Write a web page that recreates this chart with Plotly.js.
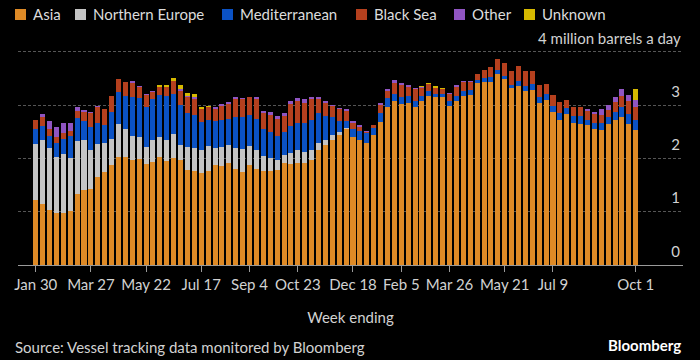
<!DOCTYPE html>
<html>
<head>
<meta charset="utf-8">
<script src="https://cdn.plot.ly/plotly-3.0.1.min.js"></script>
<style>
  html, body { margin: 0; padding: 0; background: #000; }
  #chart { width: 700px; height: 360px; }
</style>
</head>
<body>
<div id="chart"></div>
<script>
// ---- Data (million barrels a day, weekly) ----
const seriesNames = ['Asia', 'Northern Europe', 'Mediterranean', 'Black Sea', 'Other', 'Unknown'];
const seriesColors = ['#de8a26', '#c4c4c4', '#0b52c4', '#b5401e', '#9055c2', '#d6b900'];

const asia = [1.22,1.15,1.03,0.97,0.98,1.02,1.33,1.40,1.43,1.65,1.75,1.87,2.02,2.02,1.97,1.99,1.89,1.93,2.03,1.95,
  2.00,1.97,1.78,1.77,1.72,1.76,1.87,1.86,1.92,1.80,1.75,1.87,1.80,1.76,1.77,1.78,1.91,1.89,1.91,1.91,
  1.98,2.15,2.25,2.35,2.44,2.55,2.40,2.34,2.30,2.44,2.69,2.97,3.07,3.02,3.05,2.97,3.08,3.18,3.15,3.15,
  2.99,3.07,3.18,3.19,3.41,3.44,3.44,3.59,3.49,3.32,3.37,3.27,3.28,3.04,3.10,2.87,2.73,2.84,2.67,2.65,
  2.62,2.55,2.54,2.65,2.73,2.77,2.65,2.54];
const northernEurope = [1.05,1.20,1.16,1.05,1.10,0.98,1.00,0.95,0.73,0.62,0.54,0.49,0.63,0.54,0.46,0.41,0.32,0.42,0.37,0.40,
  0.46,0.29,0.44,0.43,0.43,0.48,0.32,0.36,0.34,0.39,0.43,0.36,0.36,0.28,0.24,0.19,0.16,0.21,0.24,0.21,
  0.18,0.14,0.09,0.09,0.06,0.02,0,0,0,0,0,0,0,0,0,0,0,0,0,0,
  0,0,0,0,0,0,0,0,0,0,0,0,0,0,0,0,0,0,0,0,
  0,0,0,0,0,0,0,0];
const mediterranean = [0.29,0.26,0.24,0.28,0.29,0.43,0.43,0.35,0.43,0.40,0.34,0.52,0.60,0.62,0.73,0.74,0.76,0.76,0.79,0.83,
  0.75,0.75,0.64,0.61,0.54,0.49,0.51,0.51,0.48,0.58,0.60,0.58,0.59,0.51,0.49,0.46,0.43,0.51,0.51,0.55,
  0.57,0.56,0.45,0.33,0.21,0.14,0.15,0.17,0.18,0.14,0.16,0.16,0.14,0.13,0.13,0.11,0.09,0.09,0.07,0.07,
  0.09,0.11,0.09,0.09,0.06,0.08,0.09,0.08,0.06,0.06,0.08,0.09,0.11,0.11,0.11,0.11,0.12,0.11,0.13,0.15,
  0.11,0.11,0.13,0.12,0.14,0.19,0.18,0.19];
const blackSea = [0.16,0.16,0.13,0.11,0.11,0.09,0.14,0.18,0.26,0.29,0.30,0.29,0.24,0.25,0.26,0.20,0.22,0.13,0.15,0.16,
  0.24,0.26,0.29,0.31,0.23,0.23,0.23,0.25,0.28,0.34,0.34,0.34,0.36,0.30,0.31,0.31,0.29,0.41,0.41,0.38,
  0.38,0.27,0.26,0.21,0.21,0.18,0.12,0.08,0.02,0.04,0.16,0.14,0.21,0.23,0.16,0.23,0.16,0.12,0.11,0.08,
  0.13,0.17,0.17,0.16,0.11,0.15,0.18,0.20,0.25,0.27,0.29,0.28,0.25,0.23,0.18,0.21,0.21,0.14,0.16,0.16,
  0.16,0.18,0.15,0.14,0.19,0.21,0.24,0.23];
const other = [0,0.06,0.14,0.19,0.19,0.14,0.06,0.03,0.02,0.03,0,0,0,0,0.03,0.03,0.03,0.03,0.01,0.01,
  0.01,0.03,0.02,0.03,0.01,0,0.04,0.05,0.04,0.04,0.01,0.01,0.05,0.05,0.06,0.06,0.06,0.06,0.06,0.06,
  0.04,0.04,0.03,0.03,0.03,0.03,0.03,0.03,0.01,0,0.03,0.03,0.05,0.04,0.04,0.01,0.01,0.01,0,0,
  0.02,0.03,0.02,0.02,0,0,0,0,0,0,0,0,0,0,0,0,0,0,0,0,
  0.03,0.03,0.10,0.09,0.09,0.13,0.13,0.13];
const unknown = [0,0,0,0,0,0,0,0,0,0,0,0,0,0,0,0,0,0,0.03,0.03,
  0.06,0.08,0.06,0.06,0.04,0.02,0,0,0,0,0,0,0,0,0,0,0,0,0,0,
  0,0,0,0,0,0,0,0,0,0,0,0,0,0,0,0,0.03,0.02,0.03,0.03,
  0,0,0,0,0,0,0,0,0,0,0,0,0,0,0,0,0,0,0,0,
  0,0,0,0,0,0,0,0.21];

const tickDates = ['2022-01-30','2022-03-27','2022-05-22','2022-07-17','2022-09-04','2022-10-23',
  '2022-12-18','2023-02-05','2023-03-26','2023-05-21','2023-07-09','2023-10-01'];
const tickLabels = ['Jan 30','Mar 27','May 22','Jul 17','Sep 4','Oct 23','Dec 18','Feb 5','Mar 26','May 21','Jul 9','Oct 1'];
const yTickVals = [0, 1, 2, 3, 4];
const yTickLabels = ['0', '1', '2', '3', ''];
const yUnitLabel = '4 million barrels a day';

// Week-ending dates (categories), weekly from Jan 30, 2022
const weekEnding = [];
const startMs = Date.UTC(2022, 0, 30);
for (let i = 0; i < asia.length; i++) {
  weekEnding.push(new Date(startMs + i * 7 * 86400000).toISOString().slice(0, 10));
}

const seriesValues = [asia, northernEurope, mediterranean, blackSea, other, unknown];

// ---- Layout constants ----
const W = 700, H = 360;
const M = { l: 18, r: 17, t: 20, b: 95 };
const plotW = W - M.l - M.r, plotH = H - M.t - M.b;
const px2x = px => (px - M.l) / plotW;
const px2y = py => (H - M.b - py) / plotH;
const FONT = 'Lato, "Noto Sans", sans-serif';
const TEXT = '#d2d2d2';

const traces = seriesNames.map((name, i) => ({
  type: 'bar',
  name: name,
  x: weekEnding,
  y: seriesValues[i],
  marker: { color: seriesColors[i], line: { width: 0 } },
  hovertemplate: name + ': %{y:.2f}<extra>%{x}</extra>'
}));

// Legend drawn as swatches + labels
const legendSwatchX = [15, 75, 222, 356, 454, 524];
const shapes = [];
const annotations = [];
seriesNames.forEach((name, i) => {
  shapes.push({
    type: 'rect', xref: 'paper', yref: 'paper',
    x0: px2x(legendSwatchX[i]), x1: px2x(legendSwatchX[i] + 11),
    y0: px2y(20), y1: px2y(9),
    fillcolor: seriesColors[i], line: { width: 0 }
  });
  annotations.push({
    xref: 'paper', yref: 'paper', x: px2x(legendSwatchX[i] + 16), y: px2y(14.5),
    xanchor: 'left', yanchor: 'middle', showarrow: false, text: name,
    font: { family: FONT, size: 15, color: '#dcdcdc' }
  });
});
// Top y tick label with unit
annotations.push({
  xref: 'paper', yref: 'y', x: 1, y: yTickVals[yTickVals.length - 1],
  xanchor: 'right', yanchor: 'middle', yshift: 14, showarrow: false,
  text: yUnitLabel,
  font: { family: FONT, size: 15, color: TEXT }
});
annotations.push({
  xref: 'paper', yref: 'paper', x: px2x(13), y: px2y(347),
  xanchor: 'left', yanchor: 'middle', showarrow: false,
  text: 'Source: Vessel tracking data monitored by Bloomberg',
  font: { family: FONT, size: 15, color: TEXT }
});
annotations.push({
  xref: 'paper', yref: 'paper', x: px2x(683), y: px2y(345),
  xanchor: 'right', yanchor: 'middle', showarrow: false,
  text: '<b>Bloomberg</b>',
  font: { family: FONT, size: 15, color: '#ffffff' }
});

const layout = {
  width: W, height: H,
  margin: M,
  paper_bgcolor: '#000', plot_bgcolor: '#000',
  barmode: 'stack', bargap: 0.27,
  showlegend: false,
  font: { family: FONT, size: 15, color: TEXT },
  xaxis: {
    type: 'category',
    range: [-2.57, 93.85],
    tickvals: tickDates, ticktext: tickLabels,
    ticks: 'outside', ticklen: 6, tickwidth: 1, tickcolor: '#9a9a9a',
    showline: true, linecolor: '#9a9a9a', linewidth: 1,
    showgrid: false, zeroline: false,
    tickfont: { family: FONT, size: 15, color: TEXT },
    title: { text: 'Week ending', standoff: 20, font: { family: FONT, size: 15, color: TEXT } },
    fixedrange: true
  },
  yaxis: {
    range: [0, 4.6],
    side: 'right',
    tickvals: yTickVals, ticktext: yTickLabels,
    ticklabelposition: 'inside top',
    ticklabelshift: -3,
    ticks: '',
    showgrid: true, gridcolor: '#555555', gridwidth: 1, griddash: '3px,2px',
    zeroline: false, showline: false,
    tickfont: { family: FONT, size: 15, color: TEXT },
    fixedrange: true
  },
  shapes: shapes,
  annotations: annotations
};

Plotly.newPlot('chart', traces, layout, { displayModeBar: false, staticPlot: true });
</script>
</body>
</html>
